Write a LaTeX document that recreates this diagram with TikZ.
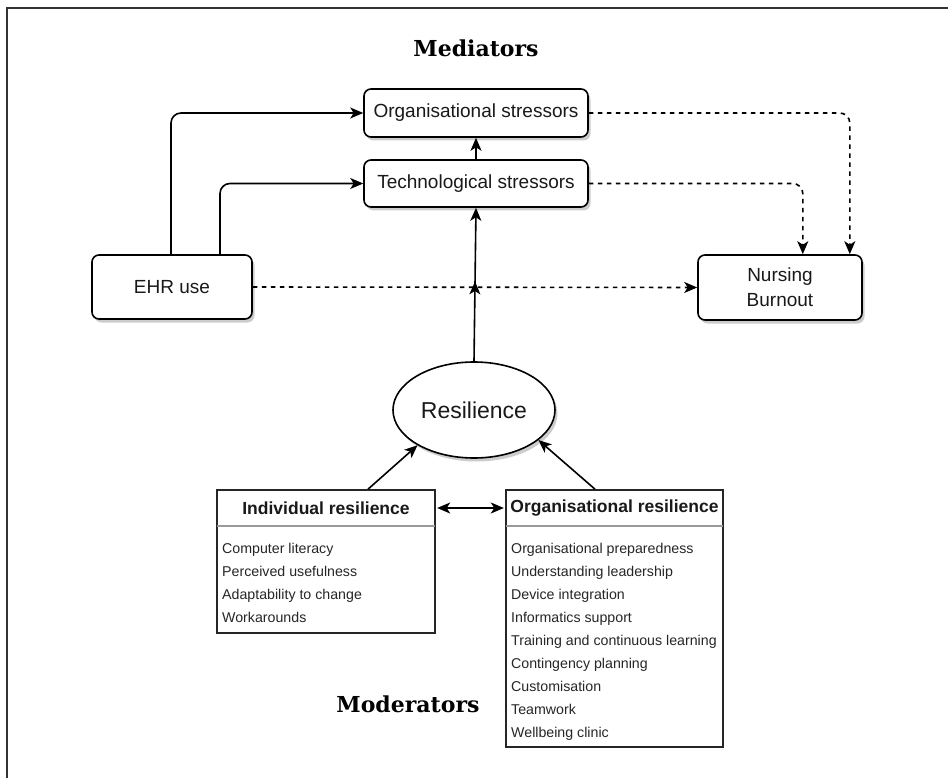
\documentclass[tikz,border=0pt]{standalone}
\usepackage{fontspec}
\setmainfont{Liberation Sans}
\newfontfamily\titlefont{DejaVu Serif}
\usetikzlibrary{arrows.meta,shapes.geometric,shadows,decorations.markings}
\begin{document}
\begin{tikzpicture}[x=1pt,y=-1pt,
  tipa/.style={-{Stealth[length=13pt,width=11pt,inset=3.5pt]}},
  shad/.style={drop shadow={opacity=0.4,shadow xshift=2.5pt,shadow yshift=-3.5pt}},
  rbox/.style={draw,line width=1.6pt,rounded corners=7pt,fill=white,shad,text=black!90,
    align=center,font=\fontsize{19}{25}\selectfont,inner sep=0pt},
  conn/.style={line width=1.6pt,tipa,rounded corners=10pt},
  dconn/.style={conn,dash pattern=on 4.5pt off 4.5pt},
  lbox/.style={draw,line width=1.6pt,draw=black!85,fill=white,inner sep=0pt},
  hdr/.style={inner sep=0pt,text=black!90,font=\fontsize{17.5}{20}\selectfont\bfseries},
  itm/.style={anchor=west,inner sep=0pt,text=black!85,text height=10.5pt,text depth=3pt,font=\fontsize{14.2}{16}\selectfont},
  ttl/.style={inner sep=0pt,font=\titlefont\bfseries\fontsize{22}{26}\selectfont},
  midtip/.style={decoration={markings,mark=at position #1 with {\arrow{Stealth[length=13pt,width=11pt,inset=3.5pt]}}},postaction={decorate}}
]
\useasboundingbox (0,0) rectangle (948,778);
\draw[line width=2.2pt,black!80] (948,8) -- (7,8) -- (7,778);

% titles
\node[ttl] (med) at (476,48) {Mediators};
\node[ttl] (mod) at (408,704) {Moderators};

% top boxes
\node[rbox,minimum width=224pt,minimum height=48pt] (org) at (476,113) {Organisational stressors};
\node[rbox,minimum width=224pt,minimum height=47pt] (tech) at (476,183.5) {Technological stressors};
\node[rbox,minimum width=160pt,minimum height=64pt] (ehr) at (172,287) {EHR use};
\node[rbox,minimum width=164pt,minimum height=65pt] (nb) at (780,287.5) {Nursing\\Burnout};
\node[ellipse,draw,line width=1.6pt,fill=white,shad,minimum width=162pt,minimum height=96pt,inner sep=0pt,
  text=black!90,font=\fontsize{23}{26}\selectfont] (res) at (474,410) {Resilience};

% list boxes
\node[lbox,minimum width=218pt,minimum height=143pt] (ind) at (326,561.5) {};
\node[lbox,minimum width=217pt,minimum height=257pt] (ores) at (614.5,618.5) {};
\node[hdr,minimum width=218pt,minimum height=36pt] (indh) at (326,508) {Individual resilience};
\node[hdr,minimum width=217pt,minimum height=36pt] (oresh) at (614.5,508) {Organisational resilience};
\draw[line width=1.6pt,black!40] (indh.south west) -- (indh.south east);
\draw[line width=1.6pt,black!40] (oresh.south west) -- (oresh.south east);

\foreach \t [count=\i from 0] in {Computer literacy,Perceived usefulness,Adaptability to change,Workarounds}
  \node[itm] (ii\i) at (222,550+23*\i) {\t};
\foreach \t [count=\i from 0] in {Organisational preparedness,Understanding leadership,Device integration,Informatics support,Training and continuous learning,Contingency planning,Customisation,Teamwork,Wellbeing clinic}
  \node[itm] (oi\i) at (511,550+23*\i) {\t};

% connectors
\draw[conn] ([xshift=-1pt]ehr.north) |- (org.west);
\draw[conn] ([xshift=48pt]ehr.north) |- (tech.west);
\draw[conn] (tech.north) -- (org.south);
\draw[dconn] (org.east) -| ([xshift=-13pt]nb.north east);
\draw[dconn] (tech.east) -| ([xshift=-60pt]nb.north east);
\draw[dconn] (ehr.east) -- (nb.west);
\draw[conn,midtip=0.52] (res.north) -- (tech.south);
\draw[conn] ([xshift=42pt]ind.north) -- (res.212);
\draw[conn] ([xshift=-19.5pt]ores.north) -- (res.335);
\draw[line width=1.6pt,{Stealth[length=13pt,width=11pt,inset=3.5pt]}-{Stealth[length=13pt,width=11pt,inset=3.5pt]}] ([xshift=2pt]indh.east) -- ([xshift=-2pt]oresh.west);
\end{tikzpicture}
\end{document}
